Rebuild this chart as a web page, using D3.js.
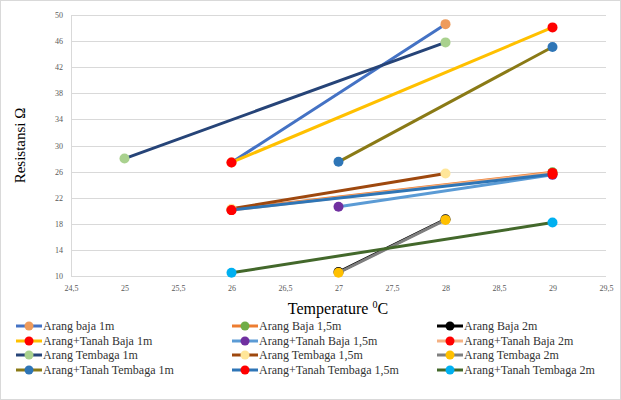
<!DOCTYPE html>
<html>
<head>
<meta charset="utf-8">
<script src="https://cdn.jsdelivr.net/npm/d3@7"></script>
<style>
  html, body { margin: 0; padding: 0; background: #fff; }
  svg { display: block; }
  text { font-family: "Liberation Serif", "Times New Roman", serif; }
</style>
</head>
<body>
<svg id="chart" width="621" height="400"></svg>
<script>
// Measured resistance (Ω) at soil temperature (°C), one array per electrode setup
const arangBaja1m            = [[26, 27.4], [28, 48.6]];
const arangBaja15m           = [[26, 20.2], [29, 25.9]];
const arangBaja2m            = [[27, 10.6], [28, 18.7]];
const arangTanahBaja1m       = [[26, 27.4], [29, 48.1]];
const arangTanahBaja15m      = [[27, 20.6], [29, 25.5]];
const arangTanahBaja2m       = [[26, 20.1], [29, 25.8]];
const arangTembaga1m         = [[25, 28.0], [28, 45.8]];
const arangTembaga15m        = [[26, 20.3], [28, 25.7]];
const arangTembaga2m         = [[27, 10.5], [28, 18.6]];
const arangTanahTembaga1m    = [[27, 27.5], [29, 45.1]];
const arangTanahTembaga15m   = [[26, 20.1], [29, 25.6]];
const arangTanahTembaga2m    = [[26, 10.5], [29, 18.2]];

const seriesNames = [
  "Arang baja 1m", "Arang Baja 1,5m", "Arang Baja 2m",
  "Arang+Tanah Baja 1m", "Arang+Tanah Baja 1,5m", "Arang+Tanah Baja 2m",
  "Arang Tembaga 1m", "Arang Tembaga 1,5m", "Arang Tembaga 2m",
  "Arang+Tanah Tembaga 1m", "Arang+Tanah Tembaga 1,5m", "Arang+Tanah Tembaga 2m"
];
const seriesValues = [
  arangBaja1m, arangBaja15m, arangBaja2m,
  arangTanahBaja1m, arangTanahBaja15m, arangTanahBaja2m,
  arangTembaga1m, arangTembaga15m, arangTembaga2m,
  arangTanahTembaga1m, arangTanahTembaga15m, arangTanahTembaga2m
];
const lineColors = [
  "#4472C4", "#ED7D31", "#000000",
  "#FFC000", "#5B9BD5", "#F4B183",
  "#264478", "#9E480E", "#7F7F7F",
  "#8A7A16", "#2E75B6", "#43682B"
];
const markerColors = [
  "#EE9B5B", "#70AD47", "#000000",
  "#FF0000", "#7030A0", "#FF0000",
  "#A9D18E", "#FFE699", "#FFC000",
  "#2E75B6", "#FF0000", "#00B0F0"
];

const xTicks = [24.5, 25, 25.5, 26, 26.5, 27, 27.5, 28, 28.5, 29, 29.5];
const yTicks = [10, 14, 18, 22, 26, 30, 34, 38, 42, 46, 50];

const svg = d3.select("#chart");
const W = 621, H = 400;

// chart area frame
svg.append("rect")
  .attr("x", 0.5).attr("y", 0.5).attr("width", W - 1).attr("height", H - 1)
  .attr("fill", "#fff").attr("stroke", "#D9D9D9");

const x = d3.scaleLinear().domain([24.5, 29.5]).range([71, 606]);
const y = d3.scaleLinear().domain([10, 50]).range([276, 15]);

const comma = v => String(v).replace(".", ",");

// horizontal gridlines
svg.append("g").selectAll("line").data(yTicks).join("line")
  .attr("x1", x(24.5)).attr("x2", x(29.5))
  .attr("y1", d => Math.round(y(d)) + 0.5).attr("y2", d => Math.round(y(d)) + 0.5)
  .attr("stroke", "#D9D9D9").attr("stroke-width", 1);

// vertical axis line
svg.append("line")
  .attr("x1", x(24.5) + 0.5).attr("x2", x(24.5) + 0.5)
  .attr("y1", y(50)).attr("y2", y(10))
  .attr("stroke", "#D9D9D9");

// y axis
const yAxis = d3.axisLeft(y).tickValues(yTicks).tickSize(0).tickPadding(8).tickFormat(comma);
const gy = svg.append("g").attr("transform", `translate(${x(24.5)},0)`).call(yAxis);
gy.select(".domain").remove();
gy.selectAll("text").attr("fill", "#595959").style("font-size", "8px")
  .style("font-family", "'Liberation Serif', serif");

// x axis
const xAxis = d3.axisBottom(x).tickValues(xTicks).tickSize(0).tickPadding(9).tickFormat(comma);
const gx = svg.append("g").attr("transform", `translate(0,${y(10)})`).call(xAxis);
gx.select(".domain").remove();
gx.selectAll("text").attr("fill", "#595959").style("font-size", "8px")
  .style("font-family", "'Liberation Serif', serif");

// axis titles
const xt = svg.append("text")
  .attr("x", 338).attr("y", 314)
  .attr("text-anchor", "middle")
  .attr("fill", "#000").style("font-size", "16px");
xt.append("tspan").text("Temperature ");
xt.append("tspan").attr("dy", -6).style("font-size", "10px").text("0");
xt.append("tspan").attr("dy", 6).text("C");

svg.append("text")
  .attr("transform", `translate(25,${(y(50) + y(10)) / 2}) rotate(-90)`)
  .attr("text-anchor", "middle")
  .attr("fill", "#000").style("font-size", "15px")
  .text("Resistansi Ω");

// series lines and markers
const line = d3.line().x(d => x(d[0])).y(d => y(d[1]));
const plot = svg.append("g");
seriesValues.forEach((vals, i) => {
  const g = plot.append("g");
  g.append("path").datum(vals)
    .attr("d", line)
    .attr("fill", "none")
    .attr("stroke", lineColors[i])
    .attr("stroke-width", 3)
    .attr("stroke-linecap", "round");
  g.selectAll("circle").data(vals).join("circle")
    .attr("cx", d => x(d[0])).attr("cy", d => y(d[1]))
    .attr("r", 5)
    .attr("fill", markerColors[i]);
});

// legend: 3 columns x 4 rows, filled row by row
const legendCols = [16, 232, 437];
const legendRows = [326, 341, 355, 370];
const leg = svg.append("g");
seriesNames.forEach((name, i) => {
  const cx = legendCols[i % 3];
  const cy = legendRows[Math.floor(i / 3)];
  const g = leg.append("g").attr("transform", `translate(${cx},${cy})`);
  g.append("line").attr("x1", 0).attr("x2", 26).attr("y1", 0).attr("y2", 0)
    .attr("stroke", lineColors[i]).attr("stroke-width", 3);
  g.append("circle").attr("cx", 13).attr("cy", 0).attr("r", 4.5).attr("fill", markerColors[i]);
  g.append("text").attr("x", 27).attr("y", 0).attr("dy", "0.35em")
    .attr("fill", "#333").style("font-size", "12px").text(name);
});
</script>
</body>
</html>
